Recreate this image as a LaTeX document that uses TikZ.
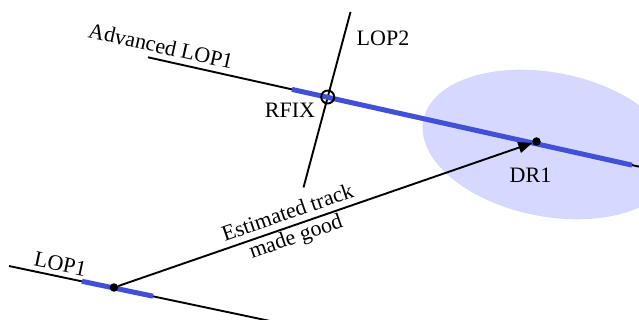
\documentclass[tikz,border=0pt]{standalone}
\usepackage{fontspec}
\setmainfont{Liberation Serif}
\usepackage{xcolor}
\usetikzlibrary{arrows.meta,positioning,shapes.geometric}
\definecolor{lopblue}{RGB}{66,80,216}
\definecolor{errfill}{RGB}{214,216,255}

\begin{document}
\begin{tikzpicture}[x=1pt,y=-1pt,>={Triangle[length=14pt,width=11pt]},font=\fontsize{22}{25}\selectfont]
\tikzstyle{lop}=[draw=black,line width=1.9pt]
\tikzstyle{band}=[draw=lopblue,line width=5pt]
\tikzstyle{dot}=[circle,fill=black,inner sep=0pt,minimum size=8.5pt]
\tikzstyle{fixring}=[circle,draw=black,line width=1.9pt,inner sep=0pt,minimum size=13pt]
\useasboundingbox (0,0) rectangle (639,320);
\clip (0,0) rectangle (639,320);
\node[ellipse,fill=errfill,minimum width=256pt,minimum height=144pt,rotate=-11] (area) at (549,144.5) {};
\coordinate (lop1a) at (9,266);
\coordinate (lop1b) at (270,321);
\coordinate (band1a) at (82,281.3);
\coordinate (band1b) at (153,296.2);
\coordinate (adva) at (148,57.3);
\coordinate (advb) at (645,168);
\coordinate (band2a) at (292,89.4);
\coordinate (band2b) at (632,165.1);
\coordinate (lop2a) at (350.5,12);
\coordinate (lop2b) at (303.5,187.5);
\draw[lop] (lop1a) -- node[pos=0.187,sloped,above=1pt] {LOP1} (lop1b);
\draw[lop] (adva) -- node[pos=0.02,sloped,above=2pt] {Advanced LOP1} (advb);
\draw[lop] (lop2a) -- (lop2b);
\draw[band] (band1a) -- (band1b);
\draw[band] (band2a) -- (band2b);
\node[dot] (fix) at (114,287.5) {};
\node[dot] (dr) at (536.5,141.5) {};
\node[fixring] (rfix) at (327.7,97) {};
\draw[lop,->] (fix) -- node[pos=0.42,sloped,align=center] {Estimated track\\made good} (dr);
\node at (383,38) {LOP2};
\node at (290,110) {RFIX};
\node[below=18pt of dr,xshift=-6pt] {DR1};
\end{tikzpicture}
\end{document}
